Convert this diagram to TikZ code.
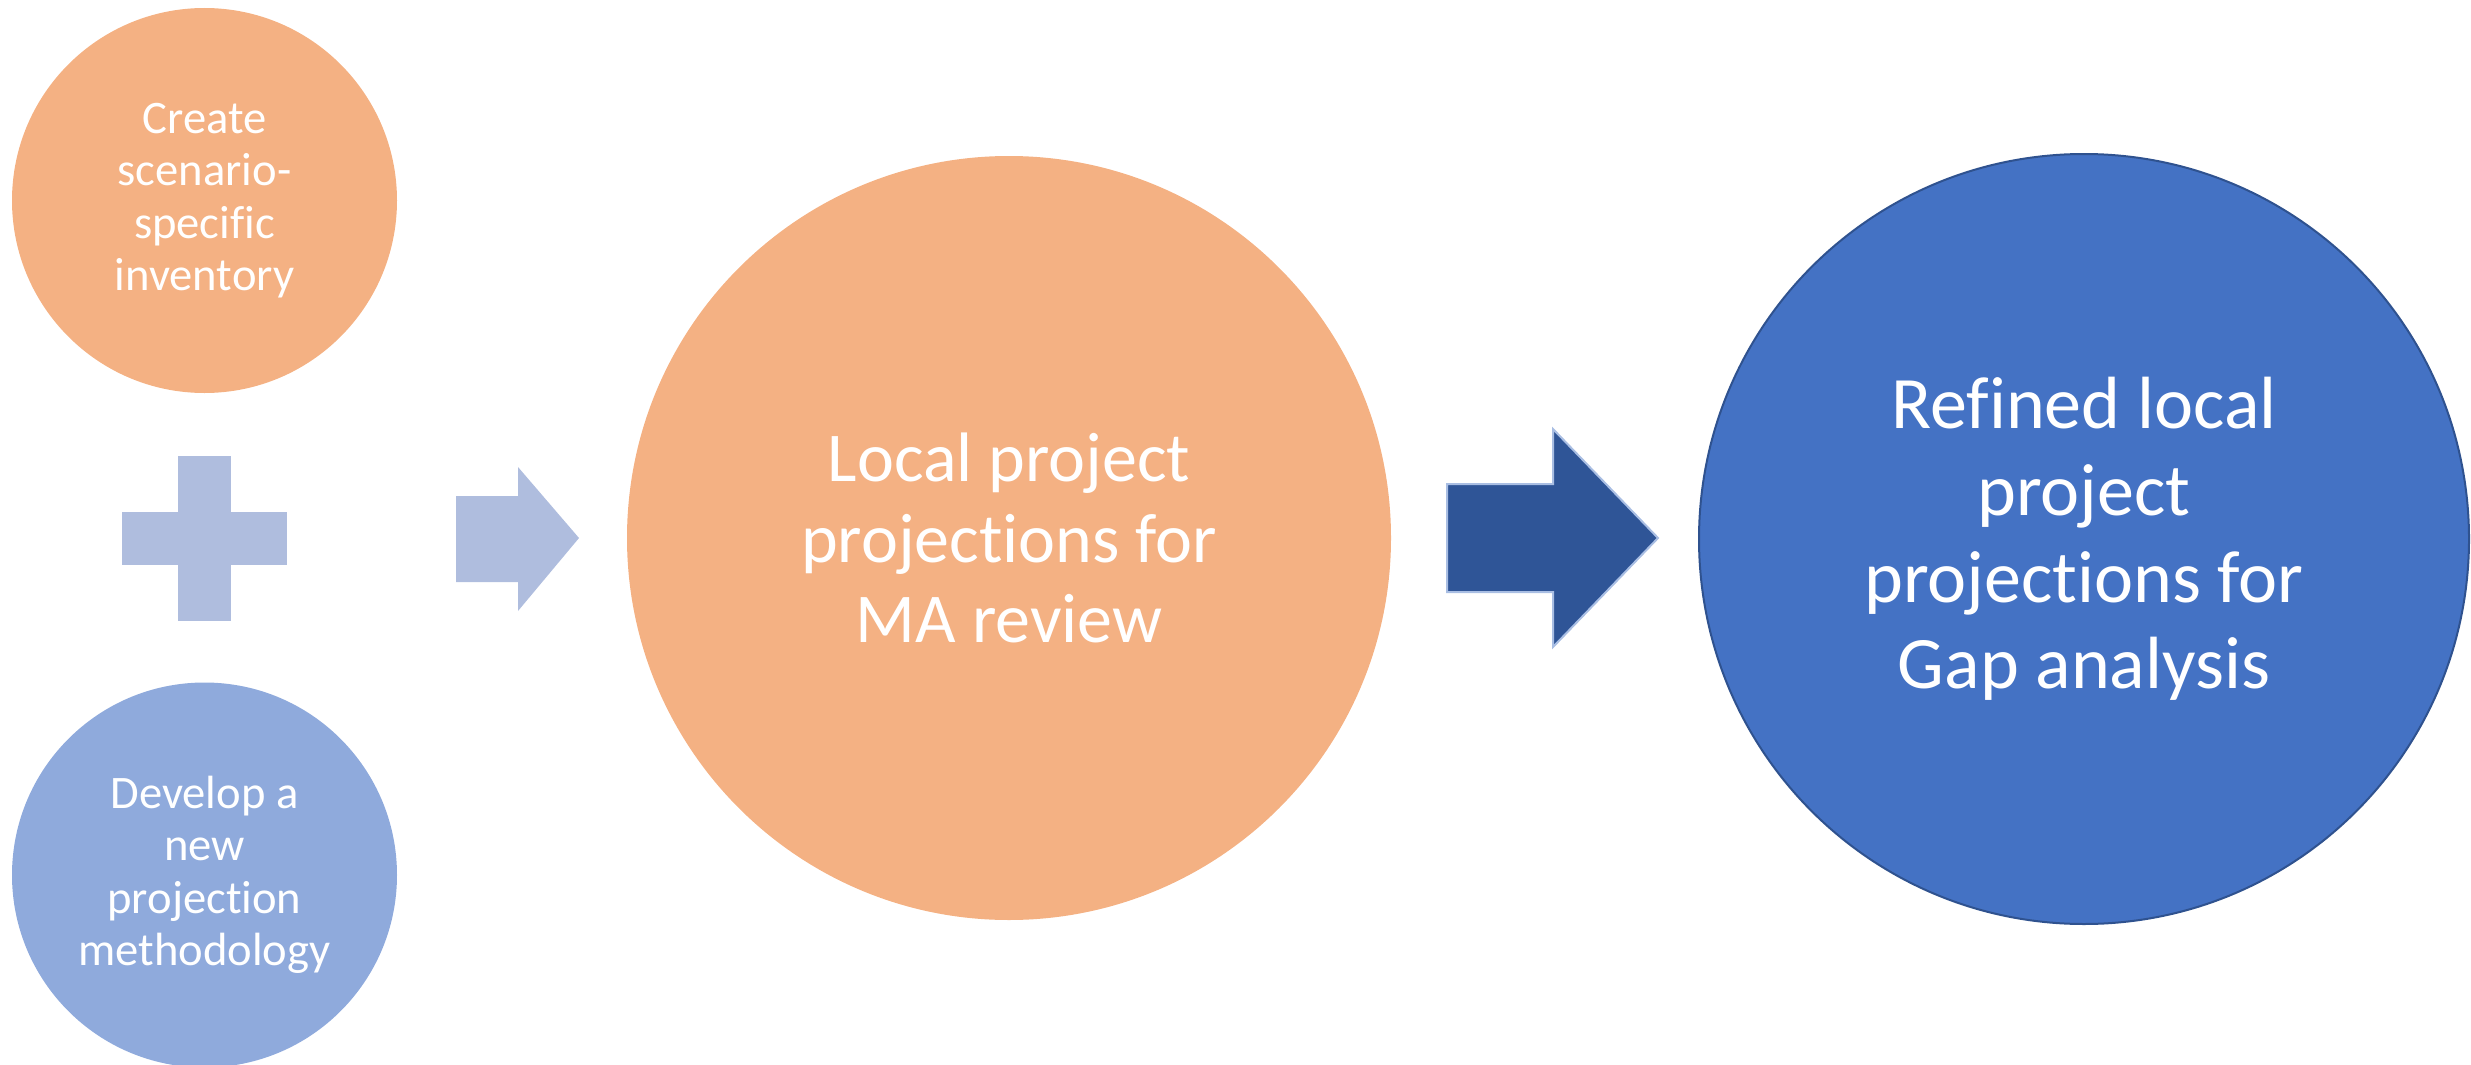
\documentclass[tikz,border=0pt]{standalone}
\usepackage{fontspec}
\setmainfont{Carlito}[Ligatures=NoCommon]
\definecolor{peach}{HTML}{F4B183}
\definecolor{softblue}{HTML}{8FAADC}
\definecolor{lavender}{HTML}{AFBDDE}
\definecolor{navy}{HTML}{2F5597}
\definecolor{navyedge}{HTML}{A9BEE3}
\definecolor{royal}{HTML}{4472C4}
\definecolor{royaledge}{HTML}{2F528F}
\tikzset{
  bubble/.style={circle, inner sep=0pt, text=white, align=center},
  smalltext/.style={font=\fontsize{46.6}{52.4}\selectfont},
}
\begin{document}
\begin{tikzpicture}[x=1pt,y=-1pt]
\useasboundingbox (0,0) rectangle (2471,1065);

% input bubbles on the left
\node[bubble, smalltext, fill=peach, minimum size=385pt] (inv) at (204.5,200.5)
  {Create\\scenario-\\specific\\inventory};
\node[bubble, smalltext, fill=softblue, minimum size=385pt] (meth) at (204.5,875)
  {Develop a\\new\\projection\\methodology};

% plus sign between the inputs
\fill[lavender] (178,456) rectangle (231,621);
\fill[lavender] (122,512) rectangle (287,565);

% light block arrow
\fill[lavender] (456,496) -- (518,496) -- (518,467) -- (579,538)
  -- (518,611) -- (518,582) -- (456,582) -- cycle;

% middle result
\node[bubble, fill=peach, minimum size=764pt,
  font=\fontsize{70}{80.5}\selectfont] (ma) at (1009,538)
  {Local project\\projections for\\MA review};

% dark block arrow
\filldraw[fill=navy, draw=navyedge, line width=2pt, line join=miter]
  (1447,484) -- (1553,484) -- (1553,429) -- (1658,538)
  -- (1553,647) -- (1553,592) -- (1447,592) -- cycle;

% final result
\node[bubble, fill=royal, draw=royaledge, line width=2pt, minimum size=770pt,
  font=\fontsize{74}{86.7}\selectfont] (gap) at (2084,539)
  {Refined local\\project\\projections for\\Gap analysis};
\end{tikzpicture}
\end{document}
